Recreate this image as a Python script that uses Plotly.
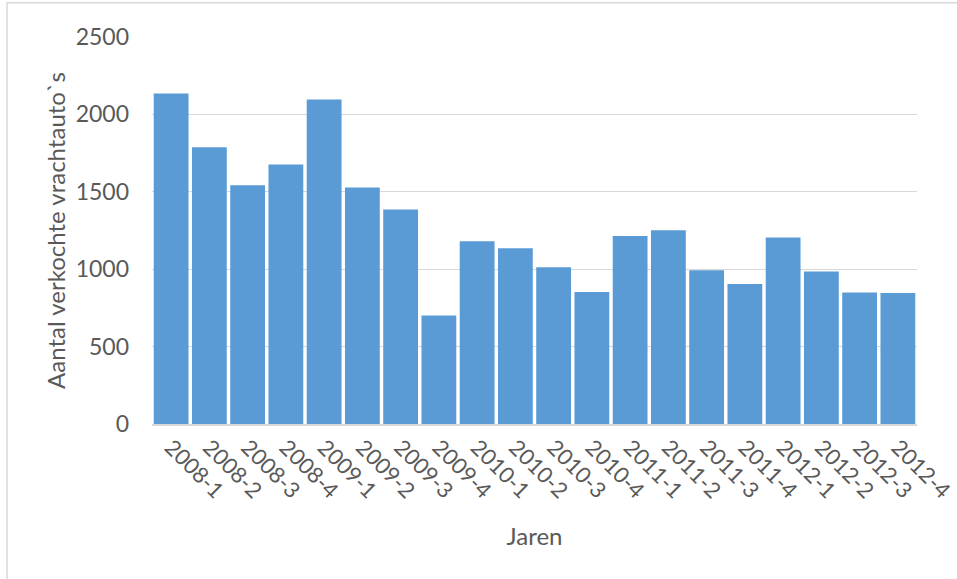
import plotly.graph_objects as go

# Quarterly truck sales
quarters = [
    "2008-1", "2008-2", "2008-3", "2008-4",
    "2009-1", "2009-2", "2009-3", "2009-4",
    "2010-1", "2010-2", "2010-3", "2010-4",
    "2011-1", "2011-2", "2011-3", "2011-4",
    "2012-1", "2012-2", "2012-3", "2012-4",
]
sold_trucks = [
    2135, 1787, 1543, 1677,
    2097, 1528, 1386, 701,
    1181, 1136, 1013, 853,
    1215, 1252, 994, 905,
    1205, 985, 849, 847,
]
y_ticks = [0, 500, 1000, 1500, 2000, 2500]

FONT = "Lato"
TEXT = "#595959"
GRID = "#d9d9d9"

fig = go.Figure(
    go.Bar(
        x=quarters,
        y=sold_trucks,
        marker=dict(color="#5b9bd5", line=dict(width=0)),
    )
)

fig.update_layout(
    width=957,
    height=579,
    margin=dict(l=152, r=40, t=37, b=155),
    paper_bgcolor="white",
    plot_bgcolor="white",
    bargap=0.09,
    showlegend=False,
    font=dict(family=FONT, color=TEXT, size=23),
    xaxis=dict(
        type="category",
        automargin=False,
        tickangle=45,
        tickfont=dict(size=22, color=TEXT),
        showgrid=False,
        showline=True,
        linecolor=GRID,
        linewidth=1.5,
        ticks="",
        title=dict(text="Jaren", font=dict(size=24, color=TEXT), standoff=26),
    ),
    yaxis=dict(
        automargin=False,
        range=[0, 2500],
        tickvals=y_ticks,
        tickfont=dict(size=23, color=TEXT),
        showgrid=True,
        gridcolor=GRID,
        gridwidth=1,
        zeroline=False,
        showline=False,
        ticks="",
        ticklabelstandoff=22,
        title=dict(text="Aantal verkochte vrachtauto`s", font=dict(size=24, color=TEXT), standoff=3),
    ),
    shapes=[
        dict(
            type="rect",
            xref="paper",
            yref="paper",
            x0=-0.1895,
            x1=1.06,
            y0=-0.43,
            y1=1.0887,
            line=dict(color=GRID, width=1.5),
            fillcolor="rgba(0,0,0,0)",
            layer="below",
        )
    ],
)

fig.write_html("out.html")
